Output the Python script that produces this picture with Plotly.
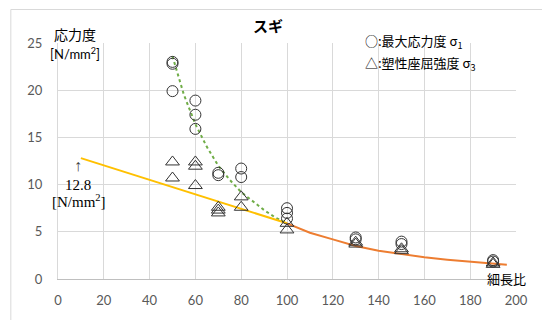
import plotly.graph_objects as go

# Slenderness ratio (x) vs stress (y) for Japanese cedar (スギ)
max_x = [50, 50, 50, 60, 60, 60, 70, 70, 80, 80, 100, 100, 100, 130, 130, 150, 150, 190, 190]
max_y = [23.0, 22.8, 19.9, 18.9, 17.4, 15.9, 11.25, 11.0, 11.7, 10.8, 7.5, 7.0, 6.4, 4.4, 4.2, 3.96, 3.7, 2.0, 1.85]

buck_x = [50, 50, 60, 60, 60, 70, 70, 70, 80, 80, 100, 100, 130, 130, 150, 150, 190, 190]
buck_y = [12.4, 10.7, 12.4, 11.95, 9.9, 7.6, 7.3, 7.0, 8.7, 7.6, 5.9, 5.2, 3.9, 3.7, 3.2, 3.0, 1.7, 1.55]

# Design curves
lin_x = [10, 50, 100]
lin_y = [12.8, 9.75, 5.9]

euler_x = [50, 55, 60, 65, 70, 75, 80, 85, 90, 95, 100]
euler_y = [23.6, 19.5, 16.4, 14.0, 12.0, 10.5, 9.2, 8.2, 7.3, 6.5, 5.9]

long_x = [100, 110, 120, 130, 140, 150, 160, 170, 180, 190, 196]
long_y = [5.9, 4.9, 4.2, 3.5, 3.0, 2.65, 2.3, 2.05, 1.82, 1.63, 1.52]

x_ticks = [0, 20, 40, 60, 80, 100, 120, 140, 160, 180, 200]
y_ticks = [0, 5, 10, 15, 20, 25]

fig = go.Figure()

fig.add_trace(go.Scatter(x=euler_x, y=euler_y, mode="lines",
                         line=dict(color="#70ad47", width=2, dash="dot"),
                         showlegend=False, hoverinfo="skip"))
fig.add_trace(go.Scatter(x=lin_x, y=lin_y, mode="lines",
                         line=dict(color="#ffc000", width=2),
                         showlegend=False, hoverinfo="skip"))
fig.add_trace(go.Scatter(x=long_x, y=long_y, mode="lines",
                         line=dict(color="#ed7d31", width=2),
                         showlegend=False, hoverinfo="skip"))
fig.add_trace(go.Scatter(x=max_x, y=max_y, mode="markers",
                         marker=dict(symbol="circle-open", size=11,
                                     color="#333333", line=dict(width=1)),
                         showlegend=False))
fig.add_trace(go.Scatter(x=buck_x, y=buck_y, mode="markers",
                         marker=dict(symbol="triangle-up-open", size=12,
                                     color="#333333", line=dict(width=1)),
                         showlegend=False))

tick_font = dict(family="Lato, Open Sans, sans-serif", size=13, color="#595959")

fig.update_xaxes(range=[0, 200], tickvals=x_ticks, showgrid=True,
                 gridcolor="#d9d9d9", gridwidth=1, zeroline=False,
                 showline=True, linecolor="#bfbfbf", linewidth=1,
                 ticks="", tickfont=tick_font, ticklabelstandoff=9)
fig.update_yaxes(range=[0, 25], tickvals=y_ticks, showgrid=True,
                 gridcolor="#d9d9d9", gridwidth=1, zeroline=False,
                 showline=True, linecolor="#d9d9d9", linewidth=1,
                 ticks="", tickfont=tick_font, ticklabelstandoff=12)

jp = "Noto Sans CJK JP"
serif = "Liberation Serif, DejaVu Serif, serif"

annotations = [
    dict(text="<b>スギ</b>", x=0.458, y=1.075, font=dict(family=jp, size=15, color="#000000")),
    dict(text="応力度", x=0.037, y=1.04, font=dict(family=jp, size=14, color="#000000")),
    dict(text="[N/mm<sup>2</sup>]", x=0.037, y=0.955,
         font=dict(family="Lato, sans-serif", size=13, color="#000000")),
    dict(text="○:最大応力度 σ<sub>1</sub>", x=0.667, y=1.005, xanchor="left",
         font=dict(family=jp, size=13, color="#000000")),
    dict(text="△:塑性座屈強度 σ<sub>3</sub>", x=0.667, y=0.915, xanchor="left",
         font=dict(family=jp, size=13, color="#000000")),
    dict(text="細長比", x=0.98, y=0.003, font=dict(family=jp, size=13, color="#000000")),
    dict(text="↑", x=0.044, y=0.48, font=dict(family=serif, size=16, color="#404040")),
    dict(text="12.8", x=0.044, y=0.40, font=dict(family=serif, size=15, color="#000000")),
    dict(text="[N/mm<sup>2</sup>]", x=0.046, y=0.33, font=dict(family=serif, size=15, color="#000000")),
]
for a in annotations:
    a.setdefault("xanchor", "center")
    a.update(xref="paper", yref="paper", showarrow=False, yanchor="middle")

fig.update_layout(
    width=542, height=320,
    margin=dict(l=58, r=26, t=43, b=37),
    paper_bgcolor="white", plot_bgcolor="white",
    annotations=annotations,
    shapes=[dict(type="rect", xref="paper", yref="paper",
                 x0=-0.103, x1=1.2, y0=-0.3, y1=1.142,
                 line=dict(color="#d9d9d9", width=1), layer="below")],
)

fig.write_html("out.html")
